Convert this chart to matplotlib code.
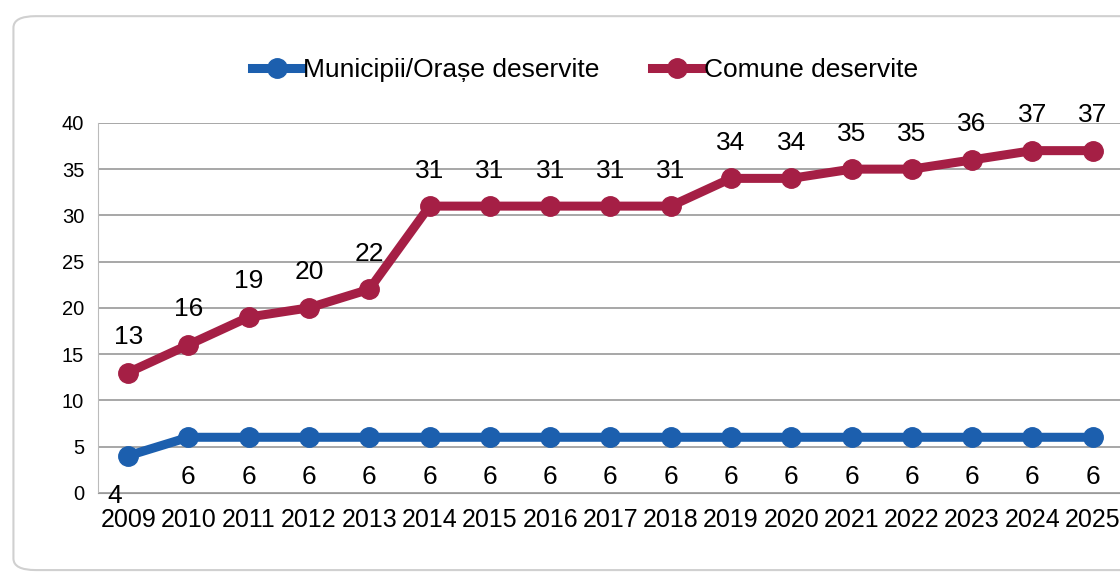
import matplotlib
matplotlib.use('Agg')
import matplotlib.pyplot as plt
from matplotlib.patches import FancyBboxPatch

plt.rcParams['font.family'] = ['Liberation Sans', 'DejaVu Sans']

years = ['2009', '2010', '2011', '2012', '2013', '2014', '2015', '2016', '2017',
         '2018', '2019', '2020', '2021', '2022', '2023', '2024', '2025']
municipii = [4, 6, 6, 6, 6, 6, 6, 6, 6, 6, 6, 6, 6, 6, 6, 6, 6]
comune = [13, 16, 19, 20, 22, 31, 31, 31, 31, 31, 34, 34, 35, 35, 36, 37, 37]

blue = '#1c5fae'
red = '#a51f45'

fig = plt.figure(figsize=(11.2, 5.77), dpi=100)
ax = fig.add_axes([0.0875, 0.146, 0.915, 0.641])

# rounded chart border
border = FancyBboxPatch((0.012, 0.012), 1.2, 0.96, boxstyle='round,pad=0,rounding_size=0.02',
                        transform=fig.transFigure, fill=False, edgecolor='#d0d0d0',
                        linewidth=1.5, zorder=-5)
fig.patches.append(border)

x = list(range(len(years)))
ax.plot(x, municipii, color=blue, lw=6.5, marker='o', ms=14, mec=blue, mfc=blue,
        label='Municipii/Orașe deservite', zorder=3, clip_on=False)
ax.plot(x, comune, color=red, lw=6.5, marker='o', ms=14, mec=red, mfc=red,
        label='Comune deservite', zorder=3, clip_on=False)

for i, v in enumerate(comune):
    ax.annotate(str(v), (i, v), xytext=(0, 17), textcoords='offset points',
                ha='center', va='bottom', fontsize=19)
for i, v in enumerate(municipii):
    dx = -10 if i == 0 else 0
    ax.annotate(str(v), (i, v), xytext=(dx, -20), textcoords='offset points',
                ha='center', va='top', fontsize=19)

ax.set_xlim(-0.5, 16.5)
ax.set_ylim(0, 40)
ax.set_yticks(range(0, 41, 5))
ax.set_xticks(x)
ax.set_xticklabels(years, fontsize=18)
ax.tick_params(axis='y', labelsize=14.5, length=0, pad=10)
ax.tick_params(axis='x', length=0, pad=11)
ax.grid(axis='y', color='#a0a0a0', lw=1.3)
ax.set_axisbelow(True)
for s in ['top', 'right']:
    ax.spines[s].set_visible(False)
ax.spines['left'].set_color('#bbbbbb')
ax.spines['bottom'].set_color('#9a9a9a')

fig.legend(loc='center', bbox_to_anchor=(0.522, 0.878), ncol=2, frameon=False,
           fontsize=19, handlelength=1.9, handletextpad=0.05, columnspacing=2.0)

plt.savefig('out.png', dpi=100)
